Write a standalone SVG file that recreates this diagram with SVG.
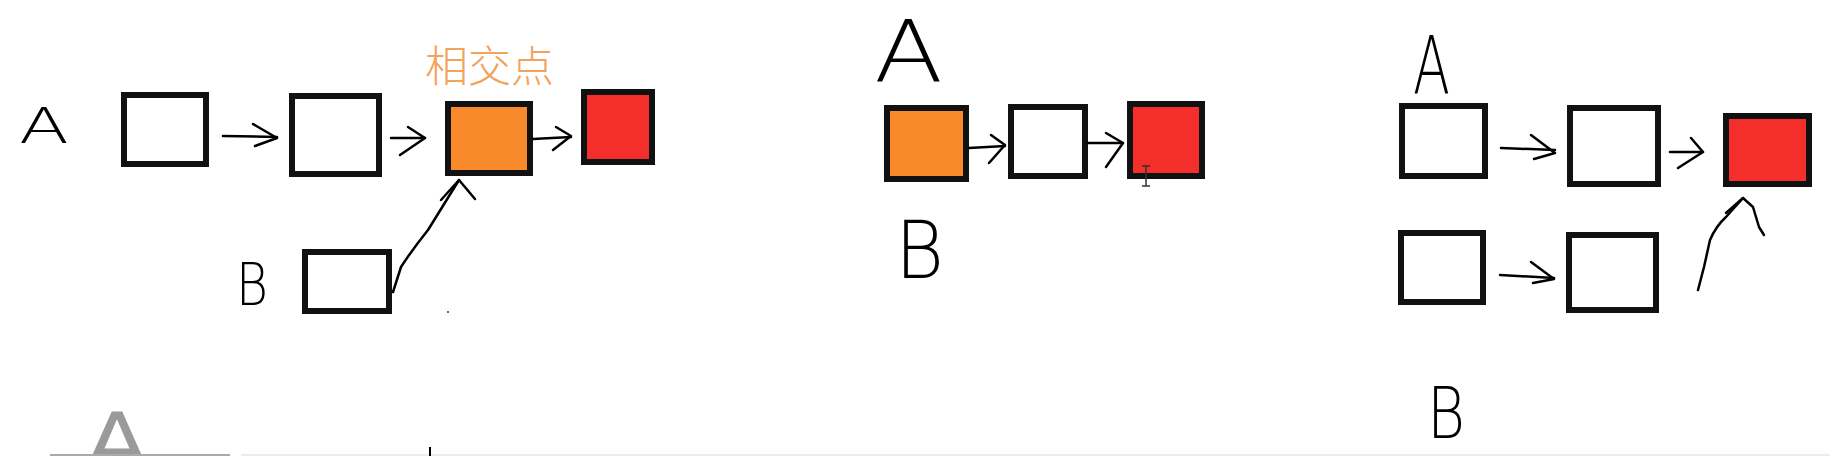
<svg xmlns="http://www.w3.org/2000/svg" width="1830" height="456" viewBox="0 0 1830 456">
<style>
.box{stroke:#111;stroke-width:6;fill:#fff}
.org{fill:#F98A2B}
.red{fill:#F42E2B}
.ln{fill:none;stroke:#000;stroke-width:2.5;stroke-linecap:round;stroke-linejoin:round}
.hand{font-family:"DejaVu Sans","Liberation Sans",sans-serif;font-weight:200;fill:#000}
.lbl{font-family:"Noto Sans CJK SC","Noto Sans",sans-serif;font-weight:300;fill:#F2A25A}
</style>
<rect width="1830" height="456" fill="#fff"/>
<g id="labels">
<text class="hand" x="19" y="143" font-size="49" textLength="50" lengthAdjust="spacingAndGlyphs">A</text>
<text class="hand" x="236" y="305" font-size="59" textLength="32" lengthAdjust="spacingAndGlyphs">B</text>
<text class="hand" x="874" y="82" font-size="86" textLength="69" lengthAdjust="spacingAndGlyphs">A</text>
<text class="hand" x="895" y="278" font-size="80" textLength="49" lengthAdjust="spacingAndGlyphs">B</text>
<text class="hand" x="1413" y="93" font-size="80" textLength="37" lengthAdjust="spacingAndGlyphs">A</text>
<text class="hand" x="1427" y="438" font-size="72" textLength="38" lengthAdjust="spacingAndGlyphs">B</text>
<text class="lbl" x="425" y="82" font-size="43">相交点</text>
</g>
<g id="p1-n1"><rect class="box" x="124" y="95" width="82" height="69"/></g>
<g id="p1-n2"><rect class="box" x="292" y="96" width="87" height="78"/></g>
<g id="p1-n3"><rect class="box org" x="448" y="104" width="82" height="69"/></g>
<g id="p1-n4"><rect class="box red" x="584" y="92" width="68" height="70"/></g>
<g id="p1-b1"><rect class="box" x="305" y="252" width="84" height="59"/></g>
<g id="p2-n1"><rect class="box org" x="887" y="108" width="79" height="71"/></g>
<g id="p2-n2"><rect class="box" x="1011" y="107" width="74" height="69"/></g>
<g id="p2-n3"><rect class="box red" x="1130" y="104" width="72" height="72"/></g>
<g id="p3-a1"><rect class="box" x="1402" y="106" width="83" height="70"/></g>
<g id="p3-a2"><rect class="box" x="1570" y="108" width="88" height="76"/></g>
<g id="p3-c"><rect class="box red" x="1726" y="116" width="83" height="68"/></g>
<g id="p3-b1"><rect class="box" x="1401" y="233" width="82" height="69"/></g>
<g id="p3-b2"><rect class="box" x="1569" y="235" width="87" height="75"/></g>
<g id="connectors">
<path class="ln" d="M223 136 L277 137"/><path class="ln" d="M253 124 L277 138 L255 146"/>
<path class="ln" d="M391 138 L425 138"/><path class="ln" d="M408 127 L425 138 L400 155"/>
<path class="ln" d="M533 139 L571 137"/><path class="ln" d="M556 127 L571 136 L553 150"/>
<path class="ln" d="M393 292 L401 267 Q412 250 428 230 L459 180"/><path class="ln" d="M441 200 L459 180 L475 199"/>
<path class="ln" d="M969 148 L1005 146"/><path class="ln" d="M991 135 L1005 145 L989 163"/>
<path class="ln" d="M1088 143 L1123 143"/><path class="ln" d="M1106 133 L1123 143 L1106 167"/>
<path class="ln" d="M1501 148 L1555 150"/><path class="ln" d="M1531 135 L1555 153 L1534 159"/>
<path class="ln" d="M1670 152 L1703 152"/><path class="ln" d="M1691 138 L1703 152 L1678 168"/>
<path class="ln" d="M1500 275 L1554 278"/><path class="ln" d="M1531 262 L1554 279 L1533 283"/>
<path class="ln" d="M1698 290 L1704 267 L1710 240 Q1716 226 1726 217 L1743 198"/><path class="ln" d="M1726 213 L1743 198 L1753 207 L1759 227 L1764 235"/>
</g>
<g id="artifacts">
<circle cx="448" cy="312" r="1" fill="#333"/>
<path d="M1142 166 H1150 M1146 166 V186 M1142 186 H1150" fill="none" stroke="#333" stroke-width="1.5"/>
<text x="85" y="470" font-family="DejaVu Sans, sans-serif" font-size="80" fill="#9a9a9a" textLength="64" lengthAdjust="spacingAndGlyphs">A</text>
<rect x="50" y="454" width="180" height="2" fill="#aaa"/>
<rect x="241" y="454" width="1589" height="2" fill="#ececec"/>
<rect x="429" y="447" width="2" height="9" fill="#000"/>
</g>
</svg>
